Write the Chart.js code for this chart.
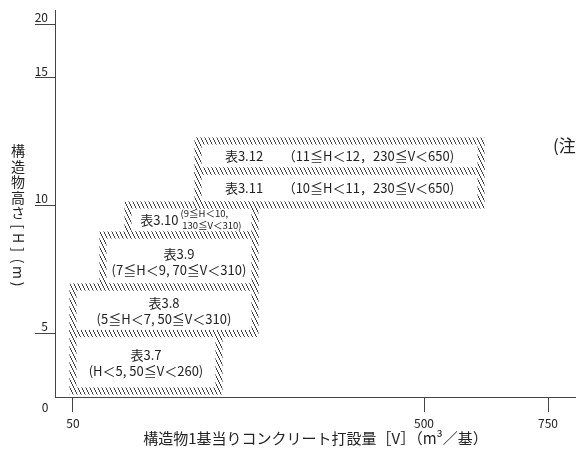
<!DOCTYPE html>
<html lang="ja">
<head>
<meta charset="UTF-8">
<title>構造物高さとコンクリート打設量</title>
<script src="https://cdn.jsdelivr.net/npm/chart.js"></script>
<style>
    body { margin: 0; background: #fff; }
    canvas { display: block; }
</style>
</head>
<body>
<canvas id="myChart" width="576" height="450"></canvas>
<script>
    // 各表の適用範囲 (H: 高さ m, V: 打設量 m3/基)
    const tableNames = ['表3.7', '表3.8', '表3.9', '表3.10', '表3.11', '表3.12'];
    const conditions = [
        '(H＜5, 50≦V＜260)',
        '(5≦H＜7, 50≦V＜310)',
        '(7≦H＜9, 70≦V＜310)',
        '(9≦H＜10,|130≦V＜310)',
        '（10≦H＜11，230≦V＜650)',
        '（11≦H＜12，230≦V＜650)'
    ];
    const hLow  = [0, 5, 7, 9, 10, 11];
    const hHigh = [5, 7, 9, 10, 11, 12];
    const vLow  = [50, 50, 70, 130, 230, 230];
    const vHigh = [260, 310, 310, 310, 650, 650];

    const yTicks = [5, 10, 15, 20];
    const xTicks = [50, 500, 750];

    // 図は目盛が不等間隔なので、区分線形の軸にする
    const AXIS_KNOTS = {
        x: { vals: [38, 50, 70, 130, 230, 260, 310, 500, 650, 750, 792],
             fracs: [0, 0.0345, 0.0921, 0.1401, 0.2745, 0.3148, 0.3839, 0.7083, 0.8177, 0.9463, 1] },
        y: { vals: [-0.5, 0, 5, 7, 9, 10, 11, 12, 15, 20, 21.3],
             fracs: [0, 0.0155, 0.1641, 0.2842, 0.4186, 0.4961, 0.5840, 0.6615, 0.8243, 0.9638, 1] }
    };

    function lerpKnots(v, from, to) {
        if (v <= from[0]) return to[0];
        for (let i = 1; i < from.length; i++) {
            if (v <= from[i]) {
                const t = (v - from[i - 1]) / (from[i] - from[i - 1]);
                return to[i - 1] + t * (to[i] - to[i - 1]);
            }
        }
        return to[to.length - 1];
    }

    class PieceScale extends Chart.LinearScale {
        getPixelForValue(value) {
            if (value === null || isNaN(value)) return NaN;
            const k = AXIS_KNOTS[this.id];
            return this.getPixelForDecimal(lerpKnots(value, k.vals, k.fracs));
        }
        getValueForPixel(pixel) {
            const k = AXIS_KNOTS[this.id];
            return lerpKnots(this.getDecimalForPixel(pixel), k.fracs, k.vals);
        }
    }
    PieceScale.id = 'piecewise';
    PieceScale.defaults = Chart.LinearScale.defaults;
    Chart.register(PieceScale);

    // 斜線ハッチ (急な右下がり)
    function makeHatch() {
        const c = document.createElement('canvas');
        c.width = 4; c.height = 8;
        const g = c.getContext('2d');
        g.fillStyle = '#444';
        for (let i = 0; i < 8; i++) g.fillRect(Math.floor(i / 2), i, 1, 1);
        return g.createPattern(c, 'repeat');
    }
    const hatch = makeHatch();

    const FONT = '"Noto Sans CJK JP", "Noto Sans", sans-serif';
    Chart.defaults.font.family = FONT;
    Chart.defaults.color = '#222';

    // 枠内の文字・縦書きの軸名など
    const textPlugin = {
        id: 'boxText',
        afterDatasetsDraw(chart) {
            const ctx = chart.ctx;
            const xs = chart.scales.x, ys = chart.scales.y;
            ctx.save();
            ctx.fillStyle = '#222';
            ctx.textBaseline = 'middle';
            tableNames.forEach((name, i) => {
                const x0 = xs.getPixelForValue(vLow[i]), x1 = xs.getPixelForValue(vHigh[i]);
                const y0 = ys.getPixelForValue(hLow[i]), y1 = ys.getPixelForValue(hHigh[i]);
                const cx = (x0 + x1) / 2, cy = (y0 + y1) / 2;
                ctx.font = '13px ' + FONT;
                if (i < 3) {
                    ctx.textAlign = 'center';
                    ctx.fillText(name, cx, cy - 7);
                    ctx.fillText(conditions[i], cx, cy + 9);
                } else if (i === 3) {
                    ctx.textAlign = 'right';
                    ctx.fillText(name, cx - 13, cy);
                    const parts = conditions[i].split('|');
                    ctx.font = '9.5px ' + FONT;
                    ctx.textAlign = 'left';
                    ctx.fillText(parts[0], cx - 11, cy - 7);
                    ctx.textAlign = 'right';
                    ctx.fillText(parts[1], cx + 50, cy + 5);
                } else {
                    ctx.textAlign = 'center';
                    ctx.fillText(name + '　　' + conditions[i], cx, cy);
                }
            });

            // 原点の 0
            ctx.font = '12px ' + FONT;
            ctx.textAlign = 'center';
            ctx.fillText('0', chart.chartArea.left - 10, chart.chartArea.bottom + 10);

            // 右端の注記 (切れている)
            ctx.font = '17px ' + FONT;
            ctx.textAlign = 'left';
            ctx.fillText('(注', chart.width - 23, ys.getPixelForValue(11.85));

            // 縦書きの軸名
            const title = '構造物高さ[H](m)';
            ctx.font = '14px ' + FONT;
            ctx.textAlign = 'center';
            let y = 151;
            let prevWide = true;
            let first = true;
            for (const ch of title) {
                const wide = ch.charCodeAt(0) > 0x2000;
                if (!first) y += (prevWide ? 7.75 : 5.75) + (wide ? 7.75 : 5.75);
                if (wide) {
                    ctx.fillText(ch, 18, y);
                } else {
                    ctx.save();
                    ctx.translate(18, y);
                    ctx.rotate(Math.PI / 2);
                    ctx.fillText(ch, 0, 0);
                    ctx.restore();
                }
                prevWide = wide;
                first = false;
            }
            ctx.restore();
        }
    };

    const ctx = document.getElementById('myChart').getContext('2d');
    const myChart = new Chart(ctx, {
        type: 'line',
        data: {
            datasets: tableNames.map((name, i) => ({
                label: name,
                data: [
                    { x: vLow[i], y: hLow[i] },
                    { x: vHigh[i], y: hLow[i] },
                    { x: vHigh[i], y: hHigh[i] },
                    { x: vLow[i], y: hHigh[i] },
                    { x: vLow[i], y: hLow[i] }
                ],
                borderColor: hatch,
                borderWidth: 7,
                borderJoinStyle: 'miter',
                borderCapStyle: 'square',
                pointRadius: 0,
                fill: false,
                tension: 0
            }))
        },
        options: {
            responsive: false,
            animation: false,
            events: [],
            layout: { padding: { top: 10, left: 0, right: 0, bottom: 0 } },
            plugins: { legend: { display: false }, tooltip: { enabled: false } },
            scales: {
                x: {
                    type: 'piecewise',
                    min: 38,
                    max: 792,
                    afterBuildTicks: s => { s.ticks = xTicks.map(v => ({ value: v })); },
                    afterFit: s => { s.height = 53; },
                    grid: { drawOnChartArea: false, tickLength: 15, tickColor: '#444' },
                    border: { color: '#444' },
                    ticks: { padding: 4, font: { size: 12 }, callback: v => String(v), maxRotation: 0 },
                    title: {
                        display: true,
                        text: '構造物1基当りコンクリート打設量［V］（m³／基）',
                        font: { size: 15 },
                        padding: { top: 0, bottom: 3 }
                    }
                },
                y: {
                    type: 'piecewise',
                    min: -0.5,
                    max: 21.3,
                    afterBuildTicks: s => { s.ticks = yTicks.map(v => ({ value: v })); },
                    afterFit: s => { s.width = 55; },
                    grid: { drawOnChartArea: false, tickLength: 20, tickColor: '#444' },
                    border: { color: '#444' },
                    ticks: { padding: -13, labelOffset: -7, font: { size: 12 }, callback: v => String(v) }
                }
            }
        },
        plugins: [textPlugin]
    });
</script>
</body>
</html>
